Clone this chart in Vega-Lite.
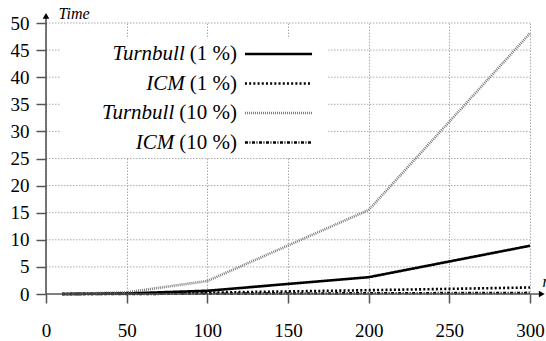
{
  "$schema": "https://vega.github.io/schema/vega-lite/v6.json",
  "width": 484,
  "height": 271,
  "autosize": {"type": "none"},
  "padding": {"left": 46, "top": 23, "right": 16, "bottom": 47},
  "config": {
    "view": {"stroke": null},
    "font": "Liberation Serif",
    "axis": {
      "domain": false,
      "gridColor": "#aaaaaa",
      "gridDash": [1.5, 1.5],
      "gridWidth": 1,
      "gridOpacity": 1,
      "tickColor": "#555555",
      "tickWidth": 1.5,
      "labelFont": "Liberation Serif",
      "labelFontSize": 19,
      "labelColor": "black",
      "labelOverlap": false,
      "labelFlush": false,
      "titleFont": "Liberation Serif",
      "titleFontStyle": "italic",
      "titleFontWeight": "normal",
      "titleFontSize": 16,
      "titleColor": "black"
    },
    "axisX": {
      "tickSize": 9,
      "labelPadding": 18,
      "titleX": 496,
      "titleY": -8,
      "titleAlign": "left",
      "titleBaseline": "alphabetic",
      "titleAnchor": null
    },
    "axisY": {
      "tickSize": 10,
      "labelPadding": 7,
      "titleAngle": 0,
      "titleX": 12,
      "titleY": -5,
      "titleAlign": "left",
      "titleBaseline": "alphabetic",
      "titleAnchor": null
    }
  },
  "datasets": {
    "curves": [
      {"n": 10, "time": 0.0, "series": "Turnbull (1 %)", "key": "T1"},
      {"n": 50, "time": 0.1, "series": "Turnbull (1 %)", "key": "T1"},
      {"n": 100, "time": 0.6, "series": "Turnbull (1 %)", "key": "T1"},
      {"n": 200, "time": 3.1, "series": "Turnbull (1 %)", "key": "T1"},
      {"n": 300, "time": 8.9, "series": "Turnbull (1 %)", "key": "T1"},
      {"n": 10, "time": 0.0, "series": "ICM (1 %)", "key": "I1"},
      {"n": 50, "time": 0.05, "series": "ICM (1 %)", "key": "I1"},
      {"n": 100, "time": 0.25, "series": "ICM (1 %)", "key": "I1"},
      {"n": 200, "time": 0.7, "series": "ICM (1 %)", "key": "I1"},
      {"n": 300, "time": 1.2, "series": "ICM (1 %)", "key": "I1"},
      {"n": 10, "time": 0.0, "series": "Turnbull (10 %)", "key": "T10"},
      {"n": 50, "time": 0.3, "series": "Turnbull (10 %)", "key": "T10"},
      {"n": 100, "time": 2.4, "series": "Turnbull (10 %)", "key": "T10"},
      {"n": 200, "time": 15.5, "series": "Turnbull (10 %)", "key": "T10"},
      {"n": 300, "time": 48.1, "series": "Turnbull (10 %)", "key": "T10"},
      {"n": 10, "time": 0.0, "series": "ICM (10 %)", "key": "I10"},
      {"n": 50, "time": 0.02, "series": "ICM (10 %)", "key": "I10"},
      {"n": 100, "time": 0.05, "series": "ICM (10 %)", "key": "I10"},
      {"n": 200, "time": 0.12, "series": "ICM (10 %)", "key": "I10"},
      {"n": 300, "time": 0.2, "series": "ICM (10 %)", "key": "I10"}
    ],
    "ygrid": [
      {"t": 5}, {"t": 10}, {"t": 15}, {"t": 20}, {"t": 25},
      {"t": 30}, {"t": 35}, {"t": 40}, {"t": 45}, {"t": 50}
    ]
  },
  "resolve": {"axis": {"x": "independent", "y": "independent"}},
  "layer": [
    {
      "data": {"name": "ygrid"},
      "mark": {"type": "rule", "clip": false, "color": "#aaaaaa", "strokeWidth": 1, "strokeDash": [1.5, 1.5]},
      "encoding": {
        "x": {"datum": 0, "type": "quantitative", "axis": null,
              "scale": {"domain": [0, 300], "nice": false, "zero": false}},
        "x2": {"datum": 300},
        "y": {"field": "t", "type": "quantitative", "axis": null,
              "scale": {"domain": [0, 50], "nice": false}}
      }
    },
    {
      "data": {"name": "curves"},
      "mark": {"type": "line", "clip": false},
      "encoding": {
        "x": {"field": "n", "type": "quantitative",
              "scale": {"domain": [0, 300], "nice": false, "zero": false},
              "axis": {"title": "n", "grid": true, "values": [0, 50, 100, 150, 200, 250, 300]}},
        "y": {"field": "time", "type": "quantitative",
              "scale": {"domain": [0, 50], "nice": false},
              "axis": {"title": "Time", "grid": false, "values": [0, 5, 10, 15, 20, 25, 30, 35, 40, 45, 50]}},
        "color": {
          "field": "series", "type": "nominal",
          "scale": {"domain": ["Turnbull (1 %)", "ICM (1 %)", "Turnbull (10 %)", "ICM (10 %)"],
                    "range": ["black", "black", "#7a7a7a", "black"]},
          "legend": {
            "orient": "none", "legendX": 222, "legendY": 20.5,
            "direction": "vertical", "title": null, "padding": 0,
            "symbolType": "M-5,0H5", "symbolSize": 180,
            "labelExpr": "slice(datum.label, indexof(datum.label, '('))",
            "labelAlign": "right", "labelOffset": -52,
            "labelFont": "Liberation Serif", "labelFontSize": 21, "labelColor": "black",
            "rowPadding": 7.5, "zindex": 2
          }
        },
        "strokeDash": {
          "field": "series", "type": "nominal",
          "scale": {"domain": ["Turnbull (1 %)", "ICM (1 %)", "Turnbull (10 %)", "ICM (10 %)"],
                    "range": [[1, 0], [2, 2.2], [1, 1], [3, 1.5, 1, 1.5]]}
        },
        "strokeWidth": {
          "field": "series", "type": "nominal",
          "scale": {"domain": ["Turnbull (1 %)", "ICM (1 %)", "Turnbull (10 %)", "ICM (10 %)"],
                    "range": [2.6, 2.6, 2.2, 2]}
        }
      }
    },
    {
      "data": {"name": "curves"},
      "mark": {"type": "line", "clip": false, "strokeWidth": 1},
      "encoding": {
        "x": {"field": "n", "type": "quantitative", "axis": null,
              "scale": {"domain": [0, 300], "nice": false, "zero": false}},
        "y": {"field": "time", "type": "quantitative", "axis": null,
              "scale": {"domain": [0, 50], "nice": false}},
        "stroke": {
          "field": "key", "type": "nominal",
          "scale": {"domain": ["T1", "I1", "T10", "I10"], "range": ["transparent", "transparent", "transparent", "transparent"]},
          "legend": {
            "orient": "none", "legendX": 14, "legendY": 15.5,
            "direction": "vertical", "title": null, "padding": 5,
            "fillColor": "white", "strokeColor": null,
            "symbolType": "circle", "symbolSize": 4, "symbolStrokeWidth": 0, "symbolOffset": 246.5,
            "labelExpr": "indexof(datum.label, 'T') == 0 ? 'Turnbull' : 'ICM'",
            "labelAlign": "right", "labelOffset": -147.75,
            "labelFont": "Liberation Serif", "labelFontSize": 21, "labelFontStyle": "italic", "labelColor": "black",
            "rowPadding": 7.5, "zindex": 1,
            "encode": {"labels": {"update": {"dx": {"signal": "indexof(datum.value, '10') >= 0 ? -10.5 : 0"}}}}
          }
        }
      }
    },
    {
      "data": {"values": [{}]},
      "mark": {"type": "rule", "clip": false, "color": "#555555", "strokeWidth": 1.6},
      "encoding": {
        "x": {"datum": 0, "type": "quantitative", "axis": null,
              "scale": {"domain": [0, 300], "nice": false, "zero": false}},
        "y": {"datum": 0, "type": "quantitative", "axis": null,
              "scale": {"domain": [0, 50], "nice": false}},
        "y2": {"datum": 51.5}
      }
    },
    {
      "data": {"values": [{}]},
      "mark": {"type": "rule", "clip": false, "color": "#555555", "strokeWidth": 1.6},
      "encoding": {
        "x": {"datum": 0, "type": "quantitative", "axis": null,
              "scale": {"domain": [0, 300], "nice": false, "zero": false}},
        "x2": {"datum": 307},
        "y": {"datum": 0, "type": "quantitative", "axis": null,
              "scale": {"domain": [0, 50], "nice": false}}
      }
    },
    {
      "data": {"values": [{}]},
      "mark": {"type": "point", "shape": "triangle-up", "filled": true, "color": "black", "size": 45, "opacity": 1, "clip": false},
      "encoding": {
        "x": {"datum": 0, "type": "quantitative", "axis": null,
              "scale": {"domain": [0, 300], "nice": false, "zero": false}},
        "y": {"datum": 51.3, "type": "quantitative", "axis": null,
              "scale": {"domain": [0, 50], "nice": false}}
      }
    },
    {
      "data": {"values": [{}]},
      "mark": {"type": "point", "shape": "triangle-right", "filled": true, "color": "black", "size": 45, "opacity": 1, "clip": false},
      "encoding": {
        "x": {"datum": 307.3, "type": "quantitative", "axis": null,
              "scale": {"domain": [0, 300], "nice": false, "zero": false}},
        "y": {"datum": 0, "type": "quantitative", "axis": null,
              "scale": {"domain": [0, 50], "nice": false}}
      }
    }
  ]
}
